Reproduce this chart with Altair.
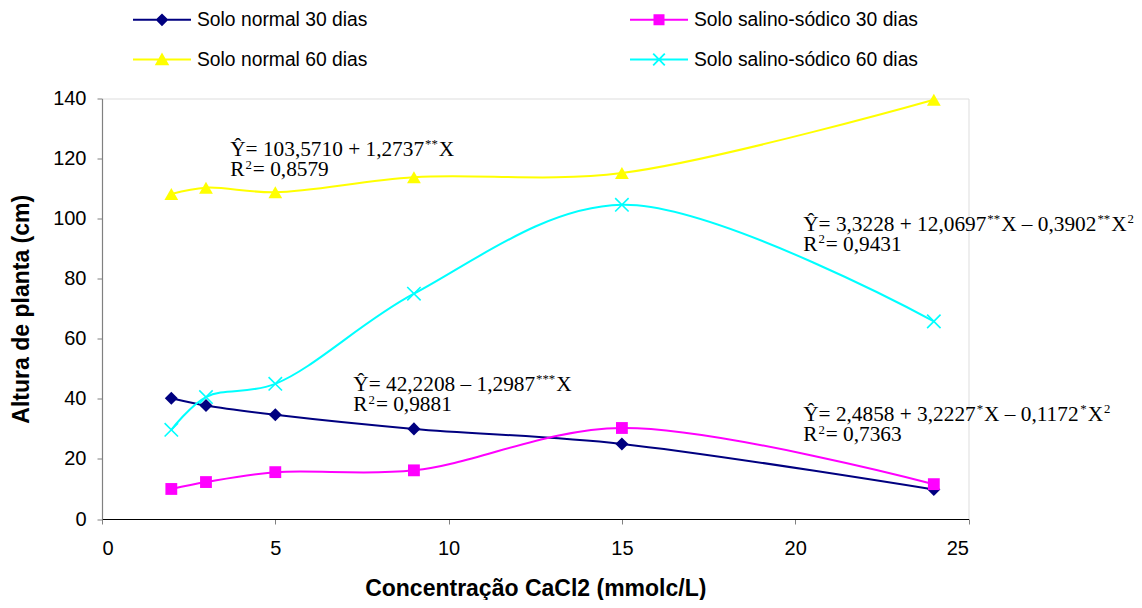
import altair as alt
import pandas as pd

# ---------------- data ----------------
conc = [2, 3, 5, 9, 15, 24]
series_names = ["Solo normal 30 dias", "Solo salino-sódico 30 dias",
                "Solo normal 60 dias", "Solo salino-sódico 60 dias"]
normal30 = [40.2, 37.8, 34.7, 30.0, 25.0, 9.8]
salino30 = [10.0, 12.3, 15.6, 16.2, 30.3, 11.6]
normal60 = [108.2, 110.3, 108.8, 113.8, 115.2, 139.6]
salino60 = [29.7, 40.6, 45.0, 75.0, 104.6, 65.8]
x_ticks = [0, 5, 10, 15, 20, 25]
y_ticks = [0, 20, 40, 60, 80, 100, 120, 140]

# equations: list of (text, superscript?) tokens per line
eq_lines = [
    [[("Ŷ= 103,5710 + 1,2737", 0), ("**", 1), ("X", 0)],
     [("R", 0), ("2", 1), ("= 0,8579", 0)]],
    [[("Ŷ= 42,2208 – 1,2987", 0), ("***", 1), ("X", 0)],
     [("R", 0), ("2", 1), ("= 0,9881", 0)]],
    [[("Ŷ= 3,3228 + 12,0697", 0), ("**", 1), ("X – 0,3902", 0), ("**", 1), ("X", 0), ("2", 1)],
     [("R", 0), ("2", 1), ("= 0,9431", 0)]],
    [[("Ŷ= 2,4858 + 3,2227", 0), ("*", 1), ("X – 0,1172", 0), ("*", 1), ("X", 0), ("2", 1)],
     [("R", 0), ("2", 1), ("= 0,7363", 0)]],
]
eq_x = [3.70, 7.25, 20.23, 20.23]
eq_y = [120.9, 42.7, 96.0, 32.7]

colors = ["#000080", "#FF00FF", "#FFFF00", "#00FFFF"]

rows = []
for name, vals in zip(series_names, [normal30, salino30, normal60, salino60]):
    for c, v in zip(conc, vals):
        rows.append({"serie": name, "x": c, "y": v})
df = pd.DataFrame(rows)

# ---------------- styles ----------------
SANS = "Liberation Sans"
SERIF = "Liberation Serif"
EQ_SIZE = 21.3
SUP_RATIO = 0.6
LINE_GAP = 20.5

xs = alt.Scale(domain=[0, 25], nice=False, zero=False)
ys = alt.Scale(domain=[0, 140], nice=False)

x_enc = alt.X("x:Q", scale=xs, axis=alt.Axis(
    values=x_ticks, grid=False, domainColor="black", domainWidth=1.2,
    tickColor="#808080", tickSize=5, labelFont=SANS, labelFontSize=20,
    labelColor="black", labelPadding=14, title="Concentração CaCl2 (mmolc/L)",
    titleFont=SANS, titleFontSize=23, titleFontWeight="bold", titleColor="black",
    titlePadding=19))
y_enc = alt.Y("y:Q", scale=ys, axis=alt.Axis(
    values=y_ticks, grid=False, domainColor="#808080", domainWidth=1.2,
    tickColor="#808080", tickSize=5, labelFont=SANS, labelFontSize=20,
    labelColor="black", labelPadding=11, title="Altura de planta (cm)",
    titleFont=SANS, titleFontSize=23, titleFontWeight="bold", titleColor="black",
    titlePadding=19))

base = alt.Chart(df)

# axes carrier layer (invisible)
axes_layer = base.mark_point(opacity=0, size=0).encode(x=x_enc, y=y_enc)

marker_specs = [
    dict(shape="diamond", size=170, filled=True),
    dict(shape="square", size=140, filled=True),
    dict(shape="triangle-up", size=190, filled=True),
    dict(shape="M-1,-1L1,1M-1,1L1,-1", size=180, filled=False, strokeWidth=1.6),
]
series_layers = []
for name, col in zip(series_names, colors):
    sub = base.transform_filter(alt.datum.serie == name)
    series_layers.append(
        sub.mark_line(interpolate="catmull-rom", strokeWidth=2, color=col)
        .encode(x="x:Q", y="y:Q"))
for name, col, spec in zip(series_names, colors, marker_specs):
    sub = base.transform_filter(alt.datum.serie == name)
    series_layers.append(
        sub.mark_point(color=col, opacity=1, **spec).encode(x="x:Q", y="y:Q"))

# legend symbols: line segment + marker, in unit box
def rect_line(h=0.035):
    return f"M-1,{-h}L1,{-h}L1,{h}L-1,{h}Z"

def xmark(a=0.2, d=0.022):
    arm1 = f"M{-a+d},{-a-d}L{a+d},{a-d}L{a-d},{a+d}L{-a-d},{-a+d}Z"
    arm2 = f"M{a+d},{-a+d}L{-a+d},{a+d}L{-a-d},{a-d}L{a-d},{-a-d}Z"
    return arm1 + arm2

legend_paths = [
    rect_line() + "M-0.22,0L0,-0.22L0.22,0L0,0.22Z",
    rect_line() + "M-0.19,-0.19L0.19,-0.19L0.19,0.19L-0.19,0.19Z",
    rect_line() + "M0,-0.24L0.25,0.2L-0.25,0.2Z",
    rect_line() + xmark(),
]

# legend order (column-major): normal 30, normal 60 | salino 30, salino 60
leg_order = [0, 2, 1, 3]
leg_domain = [series_names[i] for i in leg_order]
leg_colors = [colors[i] for i in leg_order]
leg_shapes = [legend_paths[i] for i in leg_order]

leg = alt.Legend(title=None, orient="none", legendX=31, legendY=-108, columns=2,
                 columnPadding=262, rowPadding=-4, symbolSize=3364,
                 symbolStrokeWidth=0, symbolOpacity=1, labelFont=SANS,
                 labelFontSize=19.3, labelColor="black", labelOffset=6,
                 labelLimit=0)

legend_layer = base.mark_point(filled=True, size=0, opacity=0).encode(
    x="x:Q", y="y:Q",
    color=alt.Color("serie:N", scale=alt.Scale(domain=leg_domain, range=leg_colors),
                    legend=leg),
    shape=alt.Shape("serie:N", scale=alt.Scale(domain=leg_domain, range=leg_shapes),
                    legend=leg))

# ---------------- equation text ----------------
W = {" ": 250, ",": 250, "+": 564, "=": 564, "–": 500, "X": 722, "Y": 722,
     "Ŷ": 722, "R": 667, "*": 500}

def text_width(s, size):
    return sum(W.get(ch, 500) for ch in s) / 1000.0 * size

text_layers = []
for lines_tok, ex, ey in zip(eq_lines, eq_x, eq_y):
    for li, toks in enumerate(lines_tok):
        off = 0.0
        for txt, sup in toks:
            size = EQ_SIZE * SUP_RATIO if sup else EQ_SIZE
            dy = li * LINE_GAP - (EQ_SIZE * 0.36 if sup else 0)
            text_layers.append(
                alt.Chart(pd.DataFrame({"x": [ex], "y": [ey], "t": [txt]}))
                .mark_text(align="left", baseline="alphabetic", font=SERIF,
                           fontSize=size, color="black", dx=off, dy=dy)
                .encode(x="x:Q", y="y:Q", text="t:N"))
            off += text_width(txt, size) + 1.0

chart = alt.layer(axes_layer, *series_layers, legend_layer, *text_layers).properties(
    width=866.5, height=420.5,
    autosize=alt.AutoSizeParams(type="none"),
    padding={"left": 94, "top": 90.5, "right": 165.5, "bottom": 81},
).configure_view(stroke=None).configure(background="white")

chart.save("out.html", embed_options={"renderer": "svg", "actions": False})
